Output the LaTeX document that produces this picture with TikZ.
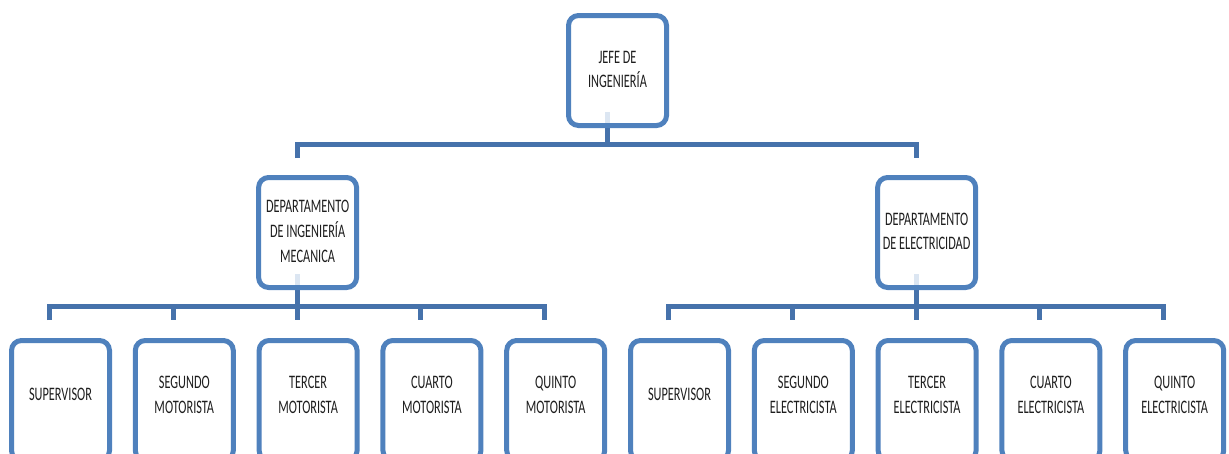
\documentclass[tikz,border=0pt]{standalone}
\usepackage{fontspec}
\setmainfont{Carlito}
\usepackage{graphicx}
\definecolor{boxblue}{HTML}{4F81BD}
\definecolor{linkblue}{HTML}{4672AB}
\definecolor{stubblue}{HTML}{DCE6F2}
\definecolor{txtcol}{HTML}{1E1E1E}
\newcommand{\lbl}[1]{\scalebox{1}[1.55]{\fontsize{12.3}{16}\selectfont\begin{tabular}{@{}c@{}}#1\end{tabular}}}
\begin{document}
\begin{tikzpicture}[x=1pt,y=-1pt,
  orgbox/.style={draw=boxblue,line width=5pt,rounded corners=10pt,fill=white,
    minimum width=98pt,minimum height=110pt,inner sep=0pt,text=txtcol},
  leafbox/.style={orgbox,minimum height=120pt},
  txt/.style={inner sep=0pt,text=txtcol},
  link/.style={draw=linkblue,line width=5pt,line join=miter},
  stub/.style={draw=stubblue,line width=5pt}]
\useasboundingbox (0,0) rectangle (1229,453);

% connector coordinates
\coordinate (js) at (607,125.5);
\coordinate (jb) at (607,144);
\coordinate (bl) at (297.1,144);
\coordinate (bl2) at (297.1,158);
\coordinate (br) at (916.1,144);
\coordinate (br2) at (916.1,158);

\coordinate (ms) at (297.1,287.5);
\coordinate (mb) at (297.1,306);
\coordinate (es) at (916.1,287.5);
\coordinate (eb) at (916.1,306);

\foreach \i in {0,...,9}{
  \pgfmathsetmacro{\dx}{49.5+123.8*\i}
  \coordinate (d\i) at (\dx,306);
  \coordinate (e\i) at (\dx,320);
}

% connectors
\draw[link] (js) -- (jb);
\draw[link] (bl2) -- (bl) -- (br) -- (br2);
\draw[link] (ms) -- (mb);
\draw[link] (es) -- (eb);
\draw[link] (e0) -- (d0) -- (d4) -- (e4);
\draw[link] (e5) -- (d5) -- (d9) -- (e9);
\foreach \i in {1,2,3,6,7,8}{ \draw[link] (d\i) -- (e\i); }

% boxes
\node[orgbox] (jefe) at (617.5,70.5) {\lbl{JEFE DE\\INGENIERÍA}};
\node[orgbox] (mec) at (307.6,232.5) {\lbl{DEPARTAMENTO\\DE INGENIERÍA\\MECANICA}};
\node[orgbox] (ele) at (926.6,232.5) {\lbl{DEPARTAMENTO\\DE ELECTRICIDAD}};

\foreach \i/\t in {0/SUPERVISOR,1/SEGUNDO\\MOTORISTA,2/TERCER\\MOTORISTA,3/CUARTO\\MOTORISTA,4/QUINTO\\MOTORISTA,
  5/SUPERVISOR,6/SEGUNDO\\ELECTRICISTA,7/TERCER\\ELECTRICISTA,8/CUARTO\\ELECTRICISTA,9/QUINTO\\ELECTRICISTA}{
  \pgfmathsetmacro{\cx}{60.5+123.8*\i}
  \node[leafbox] (leaf\i) at (\cx,400.5) {};
  \node[txt] (leaft\i) at (\cx,396) {\lbl{\t}};
}

% faint stubs inside parent boxes
\draw[stub] (607,112) -- (607,123);
\draw[stub] (297.1,274) -- (297.1,285);
\draw[stub] (916.1,274) -- (916.1,285);
\end{tikzpicture}
\end{document}
